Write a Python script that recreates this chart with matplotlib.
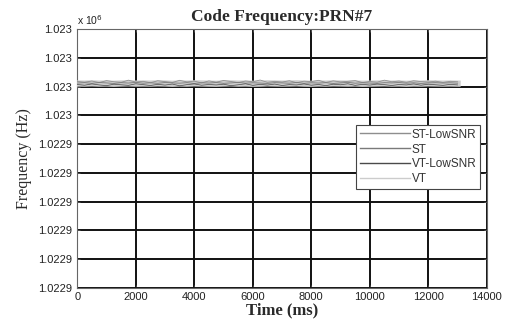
import numpy as np
import matplotlib
matplotlib.use("Agg")
import matplotlib.pyplot as plt

# time axis (ms) and code-frequency offsets (Hz) relative to base
time_ms = np.arange(0, 13001, 250)
base_hz = 1022996

st_low = [0.35, 0.30, 0.38, 0.27, 0.41, 0.33, 0.29, 0.44, 0.31, 0.36,
          0.26, 0.40, 0.34, 0.28, 0.43, 0.32, 0.37, 0.25, 0.39, 0.30,
          0.42, 0.35, 0.27, 0.38, 0.33, 0.45, 0.29, 0.36, 0.31, 0.40,
          0.26, 0.37, 0.34, 0.43, 0.28, 0.39, 0.32, 0.36, 0.41, 0.27,
          0.35, 0.30, 0.44, 0.33, 0.38, 0.29, 0.40, 0.34, 0.31, 0.37,
          0.28, 0.36, 0.33]
st = [0.24, 0.27, 0.22, 0.28, 0.25, 0.21, 0.27, 0.24, 0.29, 0.23,
      0.26, 0.22, 0.28, 0.25, 0.23, 0.27, 0.21, 0.26, 0.24, 0.28,
      0.22, 0.25, 0.29, 0.23, 0.26, 0.24, 0.21, 0.27, 0.25, 0.23,
      0.28, 0.22, 0.26, 0.24, 0.27, 0.21, 0.25, 0.29, 0.23, 0.26,
      0.24, 0.22, 0.27, 0.25, 0.28, 0.23, 0.26, 0.21, 0.25, 0.27,
      0.24, 0.26, 0.23]
vt_low = [0.14, 0.09, 0.18, 0.11, 0.06, 0.16, 0.12, 0.08, 0.19, 0.13,
          0.07, 0.15, 0.10, 0.17, 0.05, 0.13, 0.18, 0.09, 0.14, 0.11,
          0.16, 0.06, 0.12, 0.19, 0.08, 0.15, 0.10, 0.17, 0.07, 0.13,
          0.11, 0.18, 0.09, 0.14, 0.06, 0.16, 0.12, 0.19, 0.08, 0.15,
          0.10, 0.17, 0.13, 0.07, 0.14, 0.11, 0.18, 0.09, 0.16, 0.12,
          0.08, 0.15, 0.11]
vt = [0.21, 0.20, 0.22, 0.20, 0.21, 0.19, 0.21, 0.22, 0.20, 0.21,
      0.20, 0.22, 0.21, 0.19, 0.21, 0.20, 0.22, 0.21, 0.20, 0.19,
      0.21, 0.22, 0.20, 0.21, 0.19, 0.20, 0.22, 0.21, 0.20, 0.21,
      0.22, 0.20, 0.19, 0.21, 0.20, 0.22, 0.21, 0.20, 0.21, 0.19,
      0.20, 0.21, 0.22, 0.20, 0.21, 0.19, 0.21, 0.20, 0.22, 0.21,
      0.20, 0.21, 0.20]

series_names = ["ST-LowSNR", "ST", "VT-LowSNR", "VT"]
series_data = [st_low, st, vt_low, vt]
series_colors = ["#8e8e8e", "#7a7a7a", "#4a4a4a", "#cccccc"]

yticks_hz = np.arange(1022982, 1023001, 2)
ytick_labels = ["1.0229"] * 6 + ["1.023"] * 4
xticks = np.arange(0, 14001, 2000)

fig = plt.figure(figsize=(5.05, 3.22), dpi=100)
ax = fig.add_axes([0.153, 0.106, 0.811, 0.804])

# light VT band first, thin noisy traces on top
order = [3, 0, 1, 2]
widths = [0.6, 0.6, 0.5, 4.5]
handles = {}
for i in order:
    vals = base_hz + np.array(series_data[i])
    h, = ax.plot(time_ms, vals, color=series_colors[i], lw=widths[i],
                 label=series_names[i], zorder=3)
    handles[i] = h

ax.set_xlim(0, 14000)
ax.set_ylim(1022982, 1023000)
ax.set_xticks(xticks)
ax.set_xticklabels([str(v) for v in xticks], fontsize=8,
                   family="Liberation Sans")
ax.set_yticks(yticks_hz)
ax.set_yticklabels(ytick_labels, fontsize=8, family="Liberation Sans")
ax.grid(True, color="#111111", lw=1.4, ls="-")
ax.set_axisbelow(True)
ax.tick_params(direction="in", length=2, width=0.6, pad=4, colors="#555555",
               labelcolor="#222222", right=True, top=True)
ax.tick_params(axis="x", pad=3)
for s in ax.spines.values():
    s.set_color("#666666")
    s.set_linewidth(0.8)

ax.set_title("Code Frequency:PRN#7", fontsize=12.5, family="Liberation Serif",
             fontweight="bold", color="#2a2a2a", pad=6)
ax.set_xlabel("Time (ms)", fontsize=12, family="Liberation Serif",
              fontweight="bold", color="#2a2a2a", labelpad=0)
ax.set_ylabel("Frequency (Hz)", fontsize=11.5, family="Liberation Serif",
              color="#2a2a2a", labelpad=4)
fig.text(0.153, 0.922, r"x 10$^6$", fontsize=7.5, family="Liberation Sans",
         color="#222222")

leg = ax.legend([handles[i] for i in range(4)], series_names,
                loc="lower right", bbox_to_anchor=(0.983, 0.382),
                borderaxespad=0,
                prop={"family": "Liberation Sans", "size": 8.5},
                frameon=True, fancybox=False, framealpha=1, handlelength=4.3,
                handletextpad=0.1, borderpad=0.3, labelspacing=0.25)
leg.get_frame().set_edgecolor("#444444")
leg.get_frame().set_linewidth(0.8)
leg.set_zorder(5)
for t in leg.get_texts():
    t.set_color("#333333")
for ln in leg.get_lines():
    ln.set_linewidth(1.0)

fig.savefig("out.png", dpi=100)
